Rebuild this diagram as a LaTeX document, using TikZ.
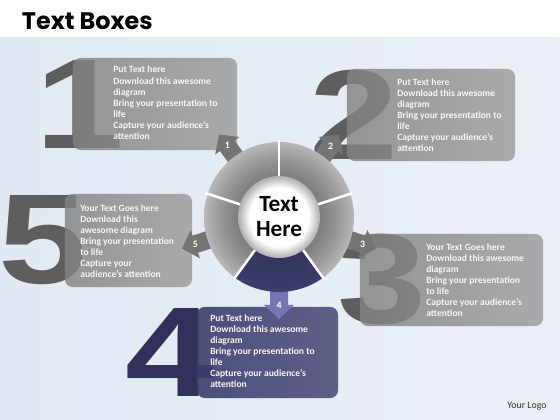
\documentclass[tikz,border=0pt]{standalone}
\usepackage{fontspec}
\usepackage{graphicx}
\setmainfont{Carlito}
\newfontfamily\titlefont{Poppins}
\newfontfamily\digitfont{Liberation Sans}
\usetikzlibrary{calc}

\definecolor{bgblue}{HTML}{E2E9F2}
\definecolor{boxleft}{HTML}{828282}
\definecolor{boxright}{HTML}{9C9C9C}
\definecolor{numgray}{HTML}{5E5E5E}
\definecolor{navy}{HTML}{3D3D6E}
\definecolor{navynum}{HTML}{30305A}
\definecolor{arrowgray}{HTML}{747474}
\definecolor{arrowblue}{HTML}{7676B6}

\newcommand{\widedigit}[1]{\scalebox{1.25}[1]{#1}}

\pgfdeclareradialshading{hubshade}{\pgfpoint{0bp}{0bp}}{color(0bp)=(white); color(18bp)=(white); color(25bp)=(black!32); color(50bp)=(black!32)}
\pgfdeclareradialshading{ringshade}{\pgfpoint{0bp}{0bp}}{color(0bp)=(black!52); color(13bp)=(black!52); color(20bp)=(black!40); color(25bp)=(black!28); color(50bp)=(black!28)}
\pgfdeclareradialshading{navyshade}{\pgfpoint{0bp}{0bp}}{color(0bp)=(navy!85!black); color(13bp)=(navy!85!black); color(25bp)=(navy); color(50bp)=(navy)}

\tikzset{
  textbox/.style={rounded corners=5.5pt, left color=boxleft, right color=boxright, fill opacity=0.82, inner sep=0},
  bignum/.style={font=\digitfont\bfseries\fontsize{91}{91}\selectfont, text=numgray, inner sep=0},
  boxtext/.style={anchor=north west, align=left, inner sep=0, text=white!93!gray,
    font=\bfseries\fontsize{6.8}{7.85}\selectfont},
  arrowlbl/.style={text=white, font=\bfseries\fontsize{7}{7}\selectfont, inner sep=0}
}

\begin{document}
\begin{tikzpicture}[x=0.025cm, y=0.025cm]
  \useasboundingbox (0,0) rectangle (560,420);
  \fill[white] (0,0) rectangle (560,420);
  \shade[left color=bgblue, middle color=white, right color=bgblue!70!white]
    (0,0) rectangle (560,382);

  \node[anchor=west, font=\titlefont\bfseries\fontsize{17}{17}\selectfont] (title)
    at (17,399) {Text Boxes};

  \coordinate (C) at (279,203);

  % numbers and boxes
  \node[bignum] (n1) at (80,316) {\widedigit{1}};
  \node[textbox, minimum width=4.1cm, minimum height=2.3cm] (b1) at (155,316) {};
  \node[boxtext] (t1) at (113,354) {Put Text here\\Download this awesome\\diagram\\Bring your presentation to\\life\\Capture your audience’s\\attention};

  \node[bignum] (n2) at (354,305) {\widedigit{2}};
  \node[textbox, minimum width=4.2cm, minimum height=2.3cm] (b2) at (431,305) {};
  \node[boxtext] (t2) at (397,341.5) {Put Text here\\Download this awesome\\diagram\\Bring your presentation to\\life\\Capture your audience’s\\attention};

  \node[bignum] (n3) at (382,140) {\widedigit{3}};
  \node[textbox, minimum width=4.575cm, minimum height=2.3cm] (b3) at (451.5,140) {};
  \node[boxtext] (t3) at (426,176.5) {Your Text Goes here\\Download this awesome\\diagram\\Bring your presentation\\to life\\Capture your audience’s\\attention};

  \node[bignum, text=navynum] (n4) at (170,67.5) {\widedigit{4}};
  \node[textbox, left color=navy, right color=navy!90!white, fill opacity=0.9,
    minimum width=3.525cm, minimum height=2.275cm] (b4) at (267.5,67.5) {};
  \node[boxtext] (t4) at (210,105.5) {Put Text here\\Download this awesome\\diagram\\Bring your presentation to\\life\\Capture your audience’s\\attention};

  \node[bignum] (n5) at (43,179.5) {\widedigit{5}};
  \node[textbox, minimum width=3.175cm, minimum height=2.325cm] (b5) at (128.5,179.5) {};
  \node[boxtext] (t5) at (80,215.5) {Your Text Goes here\\Download this\\awesome diagram\\Bring your presentation\\to life\\Capture your\\audience's attention};

  % arrows
  \foreach \n/\ang/\col in {1/126/arrowgray, 2/54/arrowgray, 3/-18/arrowgray, 4/-90/arrowblue, 5/198/arrowgray} {
    \fill[\col, shift={(C)}, rotate=\ang] (68,-9) -- (88,-9) -- (88,-15) -- (102,0)
      -- (88,15) -- (88,9) -- (68,9) -- cycle;
    \node[arrowlbl] (l\n) at ($(C)+(\ang:88)$) {\n};
  }

  % ring
  \foreach \a/\b/\sh in {90/162/ringshade, 18/90/ringshade, -54/18/ringshade,
      162/234/ringshade, -126/-54/navyshade} {
    \begin{scope}
      \clip ($(C)+(\a:40)$) arc[start angle=\a, end angle=\b, radius=40]
        -- ($(C)+(\b:75)$) arc[start angle=\b, end angle=\a, radius=75] -- cycle;
      \shade[shading=\sh] (C) circle[radius=75];
    \end{scope}
  }
  \foreach \a in {90,18,-54,-126,162}
    \draw[white, line width=1.8pt] ($(C)+(\a:38)$) -- ($(C)+(\a:77)$);

  \shade[shading=hubshade] (C) circle[radius=41];
  \node[align=center, inner sep=0, font=\bfseries\fontsize{16.5}{17.8}\selectfont] (ctr) at (C) {Text\\Here};

  \node[text=black!80, font=\fontsize{7}{8}\selectfont] (logo) at (527,14) {Your Logo};
\end{tikzpicture}
\end{document}
